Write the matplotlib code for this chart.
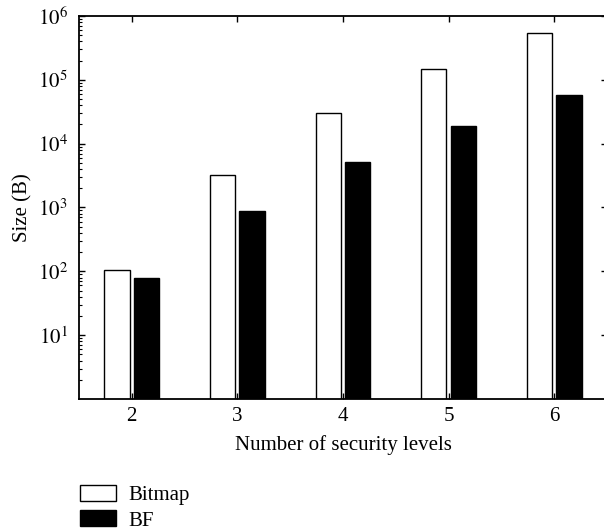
import numpy as np
import matplotlib
matplotlib.use("Agg")
import matplotlib.pyplot as plt
from matplotlib.ticker import LogLocator, NullFormatter

plt.rcParams['font.family'] = ['Liberation Serif', 'DejaVu Serif']
plt.rcParams['mathtext.fontset'] = 'stix'

levels = [2, 3, 4, 5, 6]
bitmap = [105, 3250, 30000, 148000, 540000]
bf = [79, 880, 5100, 19000, 57000]

fig = plt.figure(figsize=(6.04, 5.32), dpi=100)
ax = fig.add_axes([0.1308, 0.25, 0.874, 0.72])

x = np.array(levels)
w = 0.24
ax.bar(x - 0.14, bitmap, w, color='white', edgecolor='black', linewidth=1.0, label='Bitmap')
ax.bar(x + 0.14, bf, w, color='black', edgecolor='black', linewidth=1.0, label='BF')

ax.set_yscale('log')
ax.set_ylim(1, 1e6)
ax.set_xlim(1.5, 6.5)
ax.set_xticks(levels)
ax.set_yticks([10**k for k in range(1, 7)])
ax.set_yticklabels([r'$10^{%d}$' % k for k in range(1, 7)])
ax.yaxis.set_minor_locator(LogLocator(base=10, subs=np.arange(2, 10)))
ax.yaxis.set_minor_formatter(NullFormatter())

ax.tick_params(axis='both', which='major', direction='in', length=4, width=1,
               labelsize=15, top=True, right=True)
ax.tick_params(axis='y', which='minor', direction='in', length=2, width=0.8)
ax.tick_params(axis='x', which='both', pad=6)
ax.tick_params(axis='y', which='major', pad=8)
for s in ax.spines.values():
    s.set_linewidth(1.3)

ax.set_xlabel('Number of security levels', fontsize=15, labelpad=6)
ax.set_ylabel('Size (B)', fontsize=15, labelpad=4)

fig.legend(loc='upper left', bbox_to_anchor=(0.116, 0.108), frameon=False,
           fontsize=15, handlelength=1.7, handleheight=0.8, labelspacing=0.25,
           borderpad=0, handletextpad=0.6)

fig.savefig('out.png', dpi=100)
